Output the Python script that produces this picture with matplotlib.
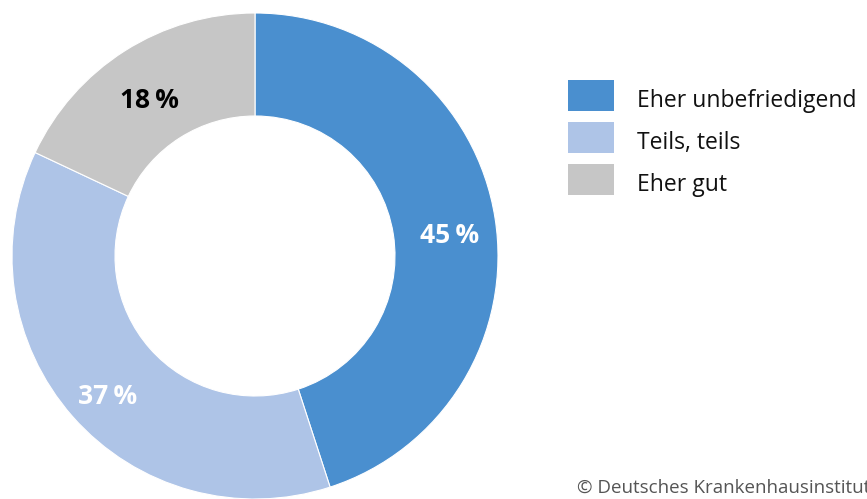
import numpy as np
import matplotlib
matplotlib.use("Agg")
import matplotlib.pyplot as plt
from matplotlib.patches import Rectangle

# data
categories = ["Eher unbefriedigend", "Teils, teils", "Eher gut"]
shares = [45, 37, 18]
colors = ["#4a8fcf", "#aec4e7", "#c6c6c6"]
label_colors = ["white", "white", "black"]
source = "\u00a9 Deutsches Krankenhausinstitut"

plt.rcParams["font.family"] = ["Open Sans", "DejaVu Sans"]

W, H = 867, 499
fig = plt.figure(figsize=(W / 100, H / 100), dpi=100)

# donut axes, centre at (255, 256) px from top, radius 243 px
R = 243
ax = fig.add_axes([(255 - R) / W, (H - 256 - R) / H, 2 * R / W, 2 * R / H])
inner = 140 / R
wedges, _ = ax.pie(shares, colors=colors, startangle=90, counterclock=False,
                   radius=1, wedgeprops=dict(width=1 - inner, edgecolor="white", linewidth=0.8))
ax.set_xlim(-1, 1)
ax.set_ylim(-1, 1)
ax.set_aspect("equal")
ax.axis("off")

# percent labels in the middle of each wedge
start = 90.0
for val, col in zip(shares, label_colors):
    span = val / sum(shares) * 360
    mid = np.radians(start - span / 2)
    r = 0.81
    ax.text(r * np.cos(mid), r * np.sin(mid) - 0.03, f"{val}\u2009%", color=col,
            fontsize=19, fontweight="bold", ha="center", va="center_baseline")
    start -= span

# legend drawn by hand in figure pixels
fig_ax = fig.add_axes([0, 0, 1, 1])
fig_ax.set_xlim(0, W)
fig_ax.set_ylim(H, 0)
fig_ax.axis("off")
for i, (cat, col) in enumerate(zip(categories, colors)):
    y0 = 80 + i * 42
    fig_ax.add_patch(Rectangle((568, y0), 46, 31, facecolor=col, edgecolor="none"))
    fig_ax.text(637, y0 + 27, cat, fontsize=16.5, va="baseline", ha="left", color="#111111")

fig_ax.text(577, 493, source, fontsize=13.5, va="baseline", ha="left", color="#555555")

fig.savefig("out.png", dpi=100)
